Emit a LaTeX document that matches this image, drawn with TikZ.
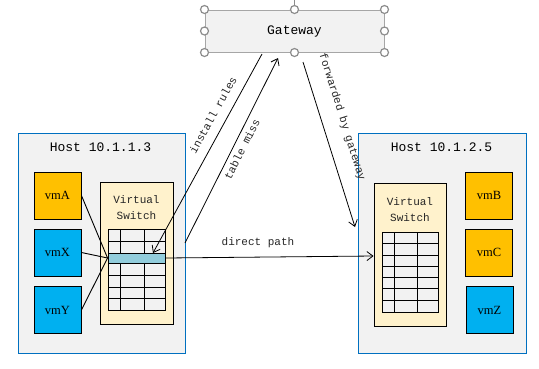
\documentclass[tikz,border=0pt]{standalone}
\usepackage{fontspec}
\setmainfont{Liberation Serif}
\setmonofont{Liberation Mono}
\usetikzlibrary{arrows.meta}
\definecolor{hostfill}{HTML}{F2F2F2}
\definecolor{hostline}{HTML}{0070C0}
\definecolor{vmorange}{HTML}{FFC000}
\definecolor{vmblue}{HTML}{00B0F0}
\definecolor{swfill}{HTML}{FFF2CC}
\definecolor{hitrow}{HTML}{92CDDC}
\definecolor{gwline}{HTML}{A6A6A6}
\definecolor{handle}{HTML}{8C8C8C}
\tikzset{
  hostbox/.style={draw=hostline, fill=hostfill, line width=0.9pt, inner sep=0pt},
  vmbox/.style={draw=black, line width=0.9pt, minimum width=47pt, minimum height=47pt,
    inner sep=0pt, font=\fontsize{12.5}{14}\selectfont},
  swbox/.style={draw=black, fill=swfill, line width=0.9pt, inner sep=0pt},
  cellgrid/.style={draw=black, line width=0.9pt},
  titletext/.style={font=\ttfamily\fontsize{13}{15}\selectfont},
  smalltext/.style={font=\ttfamily\fontsize{11}{16}\selectfont, text=black!85},
  arrowline/.style={draw=black, line width=0.8pt, -{Straight Barb[length=6pt,width=9pt]}},
  plainline/.style={draw=black, line width=0.9pt},
  knob/.style={circle, draw=handle, fill=white, line width=1.2pt, minimum size=8pt, inner sep=0pt},
}
\begin{document}
\begin{tikzpicture}[x=1pt,y=-1pt]
\useasboundingbox (0,0) rectangle (539,368);

% ---------- gateway ----------
\draw[handle, line width=1.2pt] (294.5,0) -- (294.5,10);
\node[draw=gwline, fill=hostfill, line width=1pt, minimum width=179pt, minimum height=42pt,
  inner sep=0pt, titletext] (gw) at (294.5,31) {Gateway};
\foreach \a in {north west,north,north east,west,east,south west,south,south east}
  \node[knob] at (gw.\a) {};

% ---------- host 10.1.1.3 ----------
\node[hostbox, minimum width=167pt, minimum height=220pt] (hostL) at (101.5,243) {};
\node[titletext] (hostLt) at (100.5,147) {Host 10.1.1.3};
\node[vmbox, fill=vmorange] (vmA) at (57.5,195.5) {vmA};
\node[vmbox, fill=vmblue] (vmX) at (57.5,252.5) {vmX};
\node[vmbox, fill=vmblue] (vmY) at (57.5,310) {vmY};
\node[swbox, minimum width=73pt, minimum height=142pt] (swL) at (136.5,253) {};
\node[smalltext, align=center] (swLt) at (136.5,208) {Virtual\\Switch};
% flow table of the left switch
\node[cellgrid, fill=hostfill, minimum width=57pt, minimum height=81pt, inner sep=0pt] (tabL) at (136.5,269.5) {};
\foreach \yy in {241,253,263,275,287,298}
  \draw[plainline] (108,\yy) -- (165,\yy);
\foreach \xx in {120,144}{
  \draw[plainline] (\xx,229) -- (\xx,253);
  \draw[plainline] (\xx,263) -- (\xx,310);
}
\node[draw=black, fill=hitrow, line width=0.9pt, minimum width=57pt, minimum height=10pt, inner sep=0pt] (hit) at (136.5,258) {};

% ---------- host 10.1.2.5 ----------
\node[hostbox, minimum width=168pt, minimum height=220pt] (hostR) at (442,243) {};
\node[titletext] (hostRt) at (441.5,147) {Host 10.1.2.5};
\node[vmbox, fill=vmorange] (vmB) at (489,195.5) {vmB};
\node[vmbox, fill=vmorange] (vmC) at (489,252.5) {vmC};
\node[vmbox, fill=vmblue] (vmZ) at (489.5,310) {vmZ};
\node[swbox, minimum width=72pt, minimum height=143pt] (swR) at (410,254.5) {};
\node[smalltext, align=center] (swRt) at (410,209.5) {Virtual\\Switch};
% flow table of the right switch
\node[cellgrid, fill=hostfill, minimum width=56pt, minimum height=80pt, inner sep=0pt] (tabR) at (410,272) {};
\foreach \yy in {243,255,266,277,288,300}
  \draw[plainline] (382,\yy) -- (438,\yy);
\foreach \xx in {394,417}
  \draw[plainline] (\xx,232) -- (\xx,312);

% ---------- vm links into the switch ----------
\draw[plainline] (vmA.east) -- (hit.west);
\draw[plainline] (vmX.east) -- (hit.west);
\draw[plainline] (vmY.east) -- (hit.west);

% ---------- flows ----------
\coordinate (rulesFrom) at (262,54);
\coordinate (rulesTo) at (153,253);
\coordinate (missFrom) at (185,243);
\coordinate (missTo) at (278,58);
\coordinate (fwdFrom) at (303,62);
\coordinate (fwdTo) at (355,227);
\coordinate (directTo) at (swR.west |- 0,256);

\draw[arrowline] (rulesFrom) -- (rulesTo);
\draw[arrowline] (missFrom) -- (missTo);
\draw[arrowline] (fwdFrom) -- (fwdTo);
\draw[arrowline] (hit.east) -- (directTo);

\node[smalltext, rotate=61] (rulesLbl) at (213,115) {install rules};
\node[smalltext, rotate=63] (missLbl) at (242,149) {table miss};
\node[smalltext, rotate=-72.5] (fwdLbl) at (342,117) {forwarded by gateway};
\node[smalltext] (directLbl) at (258,243) {direct path};
\end{tikzpicture}
\end{document}
